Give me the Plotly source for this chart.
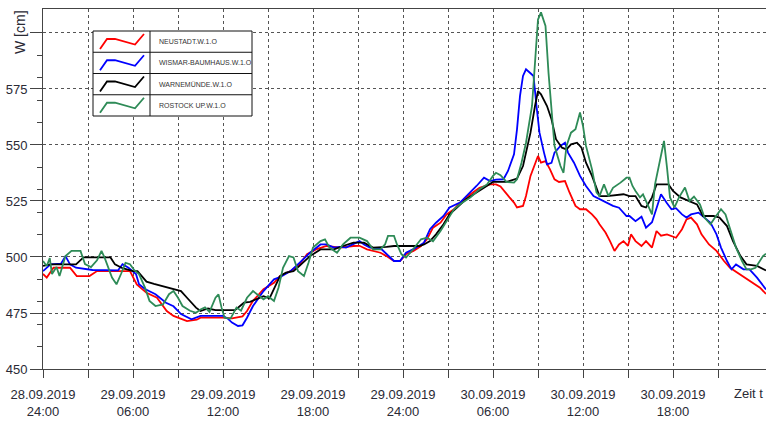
import plotly.graph_objects as go

# ---------------- data (hours since 28.09.2019 24:00, water level in cm) ----------------
series_names = ["NEUSTADT.W.1.O", "WISMAR-BAUMHAUS.W.1.O", "WARNEMÜNDE.W.1.O", "ROSTOCK UP.W.1.O"]
series_colors = ["#ff0000", "#0000ff", "#000000", "#2e8b57"]

red_t = [0.0, 0.25, 0.7, 1.8, 2.25, 3.1, 3.6, 5.8, 6.25, 6.9, 7.6, 8.25, 8.7, 9.6, 10.25, 10.5,
         12.0, 12.6, 13.3, 13.6, 14.0, 14.7, 15.4, 15.8, 16.5, 17.1, 17.6, 18.2, 18.9, 19.8, 20.7,
         21.1, 21.6, 22.5, 22.9, 23.4, 23.8, 24.2, 24.7, 25.2, 25.6, 26.0, 26.5, 26.9, 27.4, 27.8,
         28.5, 29.1, 29.8, 30.2, 30.5, 30.8, 31.1, 31.4, 31.6, 32.0, 32.2, 32.5, 32.8, 33.0, 33.2,
         33.5, 33.8, 34.1, 34.4, 34.8, 35.1, 35.5, 35.8, 36.2, 36.6, 36.9, 37.1, 37.5, 37.8, 38.1,
         38.4, 38.7, 39.0, 39.2, 39.5, 39.9, 40.2, 40.6, 40.9, 41.2, 41.6, 42.2, 42.6, 42.9, 43.2,
         43.6, 43.9, 44.4, 44.9, 45.4, 45.8, 46.5, 47.1, 47.8, 48.2]
red_v = [492.4, 490.8, 495.2, 495.2, 491.5, 491.5, 493.7, 493.7, 487.8, 484.0, 481.8, 475.9, 473.7,
         471.4, 472.0, 472.9, 472.9, 472.6, 473.5, 475.9, 480.4, 485.6, 488.5, 491.5, 493.7, 496.7,
         501.2, 503.4, 504.9, 504.2, 504.9, 505.0, 503.4, 501.9, 500.4, 498.2, 498.2, 501.2, 502.7,
         504.9, 507.9, 513.1, 515.3, 519.0, 521.3, 524.3, 528.0, 530.9, 532.4, 532.4, 531.5, 528.8,
         526.6, 524.3, 522.1, 522.8, 527.2, 536.2, 542.1, 545.1, 542.1, 542.8, 539.1, 534.7, 533.5,
         533.9, 528.8, 522.8, 521.3, 521.3, 519.0, 516.8, 514.6, 510.9, 507.1, 502.7, 505.6, 507.1,
         505.0, 510.1, 507.1, 504.9, 507.1, 504.2, 511.6, 509.5, 510.1, 508.6, 512.4, 516.8, 517.6,
         514.6, 510.1, 505.6, 502.7, 498.2, 495.2, 492.2, 489.3, 486.3, 483.5]

blue_t = [0.0, 0.5, 1.2, 1.5, 1.8, 2.2, 3.3, 4.4, 5.0, 5.3, 5.7, 6.2, 6.4, 6.8, 7.5, 8.2, 8.7, 9.2,
          9.9, 10.5, 12.0, 12.3, 12.6, 13.0, 13.3, 13.6, 14.0, 14.7, 15.4, 15.8, 16.5, 17.1, 17.8,
          18.5, 18.9, 19.4, 19.8, 20.2, 20.9, 21.1, 21.4, 21.8, 22.5, 22.9, 23.4, 23.8, 24.2, 24.7,
          25.4, 25.8, 26.2, 26.7, 27.1, 27.8, 28.5, 28.9, 29.4, 29.8, 30.2, 30.7, 31.0, 31.4, 31.6,
          31.8, 32.0, 32.2, 32.5, 32.7, 32.9, 33.1, 33.4, 33.6, 33.9, 34.1, 34.5, 34.8, 35.0, 35.4,
          35.8, 36.2, 36.7, 37.1, 37.6, 38.0, 38.4, 38.9, 39.1, 39.5, 39.9, 40.2, 40.6, 40.9, 41.2,
          41.6, 41.9, 42.2, 42.6, 42.9, 43.2, 43.7, 44.1, 44.5, 44.9, 45.2, 45.6, 45.9, 46.2, 46.7,
          47.1, 47.6, 48.2]
blue_v = [493.7, 496.7, 497.0, 500.4, 496.7, 495.2, 494.2, 494.0, 494.0, 496.8, 495.2, 492.4, 487.8,
          485.7, 483.4, 479.6, 478.0, 474.5, 472.2, 473.7, 473.7, 472.6, 470.7, 469.2, 469.5, 472.9,
          478.1, 484.8, 490.0, 491.0, 493.7, 497.4, 501.9, 505.6, 505.6, 504.2, 504.5, 504.2, 506.4,
          507.1, 505.6, 504.2, 503.9, 501.2, 498.2, 498.2, 501.9, 503.5, 506.4, 512.4, 515.3, 518.3,
          522.1, 524.3, 528.8, 531.7, 535.4, 533.9, 534.5, 534.7, 538.4, 545.8, 557.0, 571.9, 580.8,
          583.8, 582.0, 580.8, 567.4, 555.5, 546.6, 541.4, 542.0, 546.6, 549.6, 551.0, 546.6, 542.1,
          536.2, 531.7, 527.2, 525.8, 524.3, 522.8, 522.0, 518.3, 518.3, 516.0, 518.0, 513.1, 515.5,
          522.1, 528.0, 524.0, 521.3, 521.8, 519.0, 517.6, 519.0, 519.8, 517.6, 515.3, 510.1, 504.2,
          498.2, 494.5, 496.7, 494.5, 494.5, 490.8, 485.5]

black_t = [0.0, 0.5, 2.2, 2.7, 4.5, 4.8, 5.3, 6.0, 6.3, 6.9, 7.4, 8.3, 9.2, 9.6, 10.2, 10.5, 11.0,
           11.5, 12.8, 13.4, 13.8, 14.2, 14.7, 15.1, 15.8, 16.2, 16.7, 17.1, 17.8, 18.5, 19.4, 20.0,
           20.7, 21.4, 22.0, 22.9, 23.4, 25.1, 25.4, 25.8, 26.2, 26.7, 27.1, 27.6, 28.2, 28.9, 29.6,
           30.0, 30.9, 31.6, 32.0, 32.5, 32.8, 33.0, 33.2, 33.6, 33.9, 34.2, 34.6, 34.9, 35.2, 35.6,
           35.9, 36.2, 36.6, 36.9, 37.1, 37.6, 38.2, 38.7, 39.1, 39.5, 39.9, 40.2, 40.6, 40.9, 41.7,
           42.0, 42.5, 43.1, 43.6, 44.0, 44.7, 45.1, 45.6, 46.0, 46.5, 46.9, 47.6, 48.2]
black_v = [496.0, 496.7, 496.7, 499.8, 499.8, 496.7, 495.0, 493.7, 493.7, 489.0, 488.0, 486.3, 484.8,
           481.8, 477.4, 475.9, 477.0, 476.3, 476.3, 479.6, 480.0, 481.1, 482.5, 481.5, 491.5, 493.0,
           493.7, 496.0, 500.4, 503.4, 503.4, 504.9, 506.4, 506.4, 504.2, 504.5, 504.9, 504.9, 505.6,
           507.1, 510.1, 514.6, 519.0, 522.1, 525.8, 528.8, 531.7, 533.5, 533.5, 535.0, 540.6, 555.5,
           567.4, 574.1, 572.6, 567.4, 561.5, 552.6, 548.8, 548.0, 550.3, 551.0, 548.8, 542.1, 536.2,
           530.9, 527.2, 527.2, 527.5, 528.0, 527.2, 527.2, 522.8, 522.1, 526.6, 532.4, 532.4, 529.5,
           526.6, 525.0, 523.5, 518.3, 518.3, 517.6, 513.8, 507.1, 500.4, 496.7, 496.0, 494.0]

green_t = [0.0, 0.25, 0.45, 0.6, 0.9, 1.1, 1.5, 1.9, 2.5, 2.8, 3.2, 3.6, 3.9, 4.1, 4.6, 4.9, 5.2, 5.5,
           5.8, 6.1, 6.4, 6.8, 7.1, 7.5, 8.0, 8.4, 8.7, 9.0, 9.3, 9.8, 10.2, 10.5, 10.8, 11.1, 11.5,
           11.7, 11.9, 12.1, 12.5, 12.9, 13.2, 13.6, 14.0, 14.3, 14.7, 15.0, 15.4, 15.7, 16.0, 16.4,
           16.7, 17.0, 17.4, 17.7, 18.0, 18.5, 18.8, 19.1, 19.6, 20.0, 20.5, 21.1, 21.6, 22.0, 22.5,
           22.8, 23.0, 23.4, 23.6, 23.9, 24.2, 24.5, 24.9, 25.2, 25.6, 26.0, 26.5, 26.9, 27.4, 27.8,
           28.5, 29.1, 29.6, 30.0, 30.2, 30.5, 30.9, 31.4, 31.6, 31.9, 32.2, 32.6, 32.8, 33.0, 33.2,
           33.5, 33.7, 33.9, 34.1, 34.5, 34.7, 34.9, 35.2, 35.5, 35.8, 36.0, 36.2, 36.6, 36.9, 37.1,
           37.4, 37.7, 38.0, 38.5, 38.9, 39.1, 39.3, 39.5, 39.8, 40.0, 40.4, 40.6, 40.8, 41.1, 41.4,
           41.6, 41.8, 42.1, 42.4, 42.8, 43.1, 43.4, 43.8, 44.1, 44.5, 44.8, 45.2, 45.5, 45.9, 46.2,
           46.6, 46.9, 47.2, 47.5, 48.0, 48.2]
green_v = [498.2, 496.0, 499.5, 492.4, 495.5, 491.5, 500.4, 502.7, 502.7, 496.8, 495.5, 498.5, 502.7,
           499.8, 490.8, 487.8, 492.4, 497.4, 496.8, 494.0, 492.4, 486.3, 480.4, 478.1, 478.8, 483.4,
           484.8, 481.8, 478.1, 476.0, 475.1, 476.6, 477.5, 475.5, 481.8, 483.3, 477.5, 472.9, 472.5,
           477.4, 476.0, 481.8, 484.8, 483.3, 481.1, 482.5, 480.4, 486.3, 495.2, 500.4, 499.8, 493.7,
           491.5, 497.4, 504.2, 507.1, 507.9, 504.2, 501.9, 505.6, 508.6, 508.6, 507.1, 503.4, 503.4,
           505.6, 509.4, 509.4, 505.6, 501.2, 499.8, 502.0, 505.6, 507.9, 508.6, 507.0, 511.6, 516.0,
           521.3, 523.5, 526.6, 530.2, 532.4, 536.2, 537.6, 536.5, 533.5, 533.2, 534.7, 542.1, 551.0,
           567.4, 588.2, 606.0, 609.2, 603.1, 582.3, 564.5, 549.6, 540.6, 537.6, 549.6, 555.5, 557.0,
           564.5, 558.5, 549.6, 539.1, 528.8, 527.2, 532.4, 527.2, 530.9, 533.2, 535.4, 535.4, 531.7,
           529.5, 526.6, 528.0, 522.1, 519.0, 532.4, 542.9, 551.8, 539.9, 526.6, 522.1, 526.6, 531.0,
           525.0, 527.0, 523.5, 517.6, 514.6, 517.6, 521.3, 519.0, 510.1, 504.2, 498.2, 494.5, 494.5,
           495.2, 500.4, 501.5]

x_tickvals = [0, 3, 6, 9, 12, 15, 18, 21, 24, 27, 30, 33, 36, 39, 42, 45]
x_ticktext = ["28.09.2019<br>24:00", "", "29.09.2019<br>06:00", "", "29.09.2019<br>12:00", "",
              "29.09.2019<br>18:00", "", "29.09.2019<br>24:00", "", "30.09.2019<br>06:00", "",
              "30.09.2019<br>12:00", "", "30.09.2019<br>18:00", ""]
y_tickvals = [450, 475, 500, 525, 550, 575, 600]
y_ticktext = ["450", "475", "500", "525", "550", "575", ""]
y_minor_vals = [460, 470, 480, 490, 510, 520, 530, 540, 560, 570, 580, 590]

# ---------------- layout geometry ----------------
W, H = 766, 423
ML, MR, MT, MB = 43, 0, 9, 54
PW, PH = W - ML - MR, H - MT - MB
FONT = "Arial, 'Liberation Sans', sans-serif"
AXIS_C = "#444444"
TEXT_C = "#2a2a35"


def px(xp):
    return (xp - ML) / PW


def py(yp):
    return (H - MB - yp) / PH


fig = go.Figure()
all_series = [(red_t, red_v), (blue_t, blue_v), (black_t, black_v), (green_t, green_v)]
for (tt, vv), name, col in zip(all_series, series_names, series_colors):
    fig.add_trace(go.Scatter(x=tt, y=vv, mode="lines", name=name,
                             line=dict(color=col, width=1.8), showlegend=False))

# ---------------- custom legend table ----------------
shapes = []
annotations = []
lx0, lx1, ldiv = 93, 252, 150
ly0, rowh = 31, 21.25
shapes.append(dict(type="rect", xref="paper", yref="paper", x0=px(lx0), x1=px(lx1),
                   y0=py(ly0 + 4 * rowh), y1=py(ly0), fillcolor="white",
                   line=dict(color="#111111", width=1), layer="above"))
for i in range(1, 4):
    yy = ly0 + i * rowh
    shapes.append(dict(type="line", xref="paper", yref="paper", x0=px(lx0), x1=px(lx1),
                       y0=py(yy), y1=py(yy), line=dict(color="#111111", width=1), layer="above"))
shapes.append(dict(type="line", xref="paper", yref="paper", x0=px(ldiv), x1=px(ldiv),
                   y0=py(ly0), y1=py(ly0 + 4 * rowh), line=dict(color="#111111", width=1),
                   layer="above"))
sample = [(100, 18), (107, 8), (115, 8), (135, 13.5), (144, 3)]
for i, (name, col) in enumerate(zip(series_names, series_colors)):
    top = ly0 + i * rowh
    path = "M " + " L ".join(f"{px(sx):.5f},{py(top + sy):.5f}" for sx, sy in sample)
    shapes.append(dict(type="path", xref="paper", yref="paper", path=path,
                       line=dict(color=col, width=1.8), layer="above"))
    annotations.append(dict(x=px(157), y=py(top + rowh / 2), xref="paper", yref="paper",
                            text=name, showarrow=False, xanchor="left", yanchor="middle",
                            font=dict(family=FONT, size=7, color="#333333")))

annotations.append(dict(x=px(20), y=py(32), xref="paper", yref="paper", text="W [cm]",
                        textangle=-90, showarrow=False, xanchor="center", yanchor="middle",
                        font=dict(family=FONT, size=14, color=TEXT_C)))
annotations.append(dict(x=px(765), y=py(393), xref="paper", yref="paper", text="Zeit t",
                        showarrow=False, xanchor="right", yanchor="middle",
                        font=dict(family=FONT, size=13, color=TEXT_C)))

fig.update_layout(
    template="none",
    width=W, height=H,
    margin=dict(l=ML, r=MR, t=MT, b=MB, pad=0, autoexpand=False),
    paper_bgcolor="white", plot_bgcolor="white",
    shapes=shapes, annotations=annotations,
    font=dict(family=FONT, size=13, color=TEXT_C),
    xaxis=dict(range=[0, 48.2], tickmode="array", tickvals=x_tickvals, ticktext=x_ticktext,
               showline=True, linecolor=AXIS_C, linewidth=1, mirror=True,
               ticks="outside", ticklen=8, tickcolor=AXIS_C, tickwidth=1,
               ticklabelstandoff=5,
               showgrid=True, gridcolor="#555555", gridwidth=1, griddash="3px,3px",
               zeroline=False, automargin=False,
               tickfont=dict(family=FONT, size=13, color=TEXT_C)),
    yaxis=dict(range=[450, 610.7], tickmode="array", tickvals=y_tickvals, ticktext=y_ticktext,
               showline=True, linecolor=AXIS_C, linewidth=1,
               ticks="outside", ticklen=12, tickcolor=AXIS_C, tickwidth=1,
               minor=dict(tickmode="array", tickvals=y_minor_vals, ticks="outside", ticklen=5,
                          tickcolor=AXIS_C, showgrid=False),
               showgrid=True, gridcolor="#555555", gridwidth=1, griddash="3px,3px",
               zeroline=False, automargin=False,
               tickfont=dict(family=FONT, size=13, color=TEXT_C)),
)

fig.write_html("out.html",
               config={"displayModeBar": False},
               post_script="document.body.style.margin='0px';document.body.style.padding='0px';")
